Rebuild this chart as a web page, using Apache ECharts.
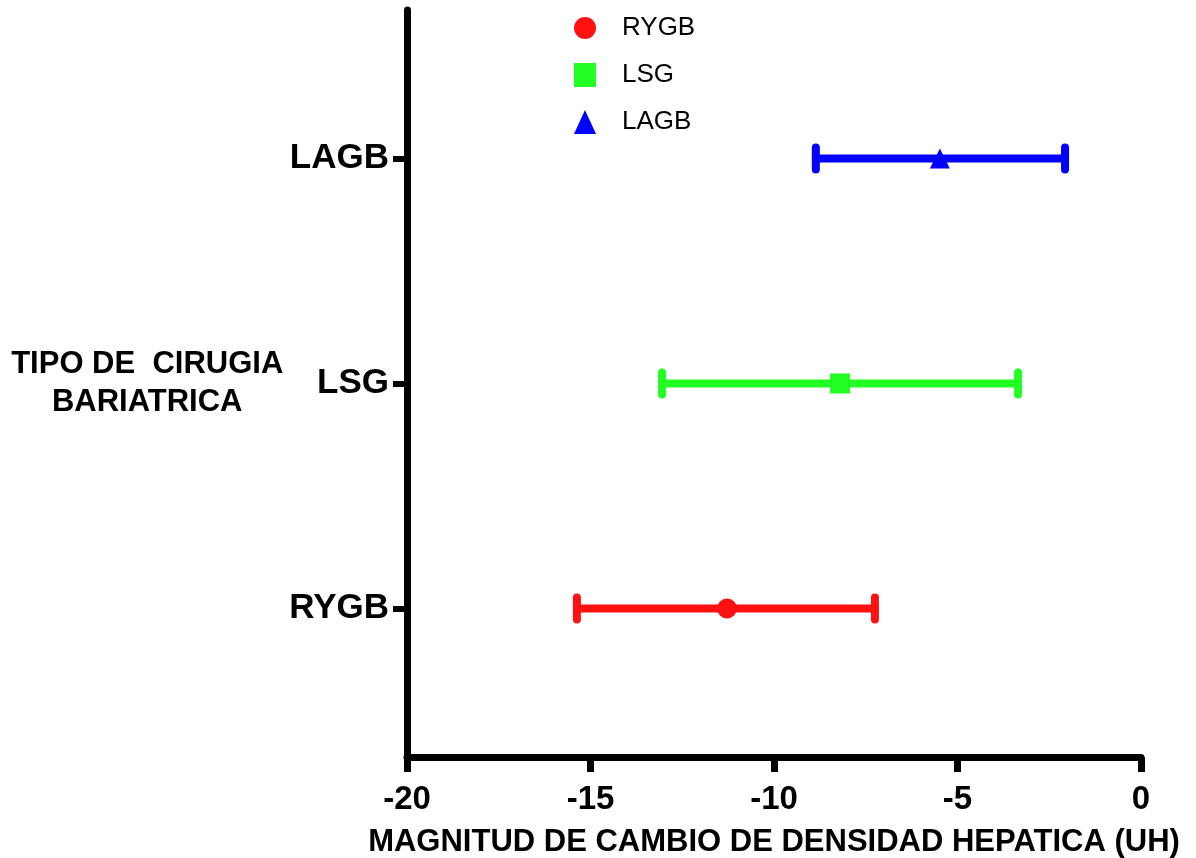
<!DOCTYPE html>
<html><head><meta charset="utf-8">
<script src="https://cdn.jsdelivr.net/npm/echarts@6/dist/echarts.min.js"></script>
<style>html,body{margin:0;padding:0;background:#fff}#c{width:1196px;height:858px}</style>
</head><body><div id="c"></div>
<script>
const groups = ['RYGB', 'LSG', 'LAGB'];
const groupPos = [1, 2, 3];
const means = [-11.28, -8.2, -5.48];
const lower = [-15.37, -13.05, -8.86];
const upper = [-7.25, -3.35, -2.07];
const colors = ['#ff1111', '#22ff22', '#0000ff'];
const symbols = ['circle', 'rect', 'triangle'];
const xTicks = [-20, -15, -10, -5, 0];

const chart = echarts.init(document.getElementById('c'));
const series = [];
groups.forEach((g, i) => {
  series.push({
    type: 'custom',
    name: g,
    silent: true,
    z: 2,
    data: [[lower[i], upper[i], groupPos[i]]],
    renderItem: function (params, api) {
      const a = api.coord([api.value(0), api.value(2)]);
      const b = api.coord([api.value(1), api.value(2)]);
      const h = 11;
      const st = {stroke: colors[i], lineWidth: 8, lineCap: 'round'};
      return {type: 'group', children: [
        {type: 'line', shape: {x1: a[0], y1: a[1], x2: b[0], y2: b[1]}, style: st},
        {type: 'line', shape: {x1: a[0], y1: a[1] - h, x2: a[0], y2: a[1] + h}, style: st},
        {type: 'line', shape: {x1: b[0], y1: b[1] - h, x2: b[0], y2: b[1] + h}, style: st}
      ]};
    }
  });
  series.push({
    type: 'scatter',
    name: g,
    z: 3,
    symbol: symbols[i],
    symbolSize: 20,
    itemStyle: {color: colors[i], opacity: 1},
    data: [[means[i], groupPos[i]]]
  });
});

chart.setOption({
  animation: false,
  color: colors,
  legend: {
    orient: 'vertical',
    left: 569,
    top: 10,
    itemGap: 21,
    itemWidth: 22,
    itemHeight: 24,
    textStyle: {fontFamily: 'Liberation Sans', fontSize: 26, color: '#000', padding: [0, 0, 0, 21]},
    data: groups.map((g, i) => ({name: g, icon: symbols[i], itemStyle: {color: colors[i]}}))
  },
  grid: {left: 407, right: 55, top: 10, bottom: 101, outerBoundsMode: 'none', containLabel: false},
  xAxis: {
    type: 'value',
    min: -20, max: 0, interval: 5,
    axisLine: {show: true, lineStyle: {color: '#000', width: 7}},
    axisTick: {show: true, length: 15, lineStyle: {color: '#000', width: 7}},
    splitLine: {show: false},
    axisLabel: {fontFamily: 'Liberation Sans', fontWeight: 'bold', fontSize: 33, color: '#000', margin: 26,
      customValues: xTicks},
    name: 'MAGNITUD DE CAMBIO DE DENSIDAD HEPATICA (UH)',
    nameLocation: 'middle',
    nameGap: 70,
    nameTextStyle: {fontFamily: 'Liberation Sans', fontWeight: 'bold', fontSize: 31, color: '#000'}
  },
  yAxis: {
    type: 'value',
    min: 0.34, max: 3.66,
    axisLine: {show: true, onZero: false, lineStyle: {color: '#000', width: 7}},
    axisTick: {show: true, length: 14, customValues: groupPos, lineStyle: {color: '#000', width: 6}},
    splitLine: {show: false},
    axisLabel: {
      customValues: groupPos,
      fontFamily: 'Liberation Sans', fontWeight: 'bold', fontSize: 35, color: '#000', margin: 18,
      formatter: v => groups[Math.round(v) - 1] || ''
    },
    name: 'TIPO DE  CIRUGIA\nBARIATRICA',
    nameLocation: 'middle',
    nameRotate: 0,
    nameGap: 252,
    nameTextStyle: {fontFamily: 'Liberation Sans', fontWeight: 'bold', fontSize: 31, color: '#000', lineHeight: 38, align: 'center'}
  },
  series: series
});
</script></body></html>
